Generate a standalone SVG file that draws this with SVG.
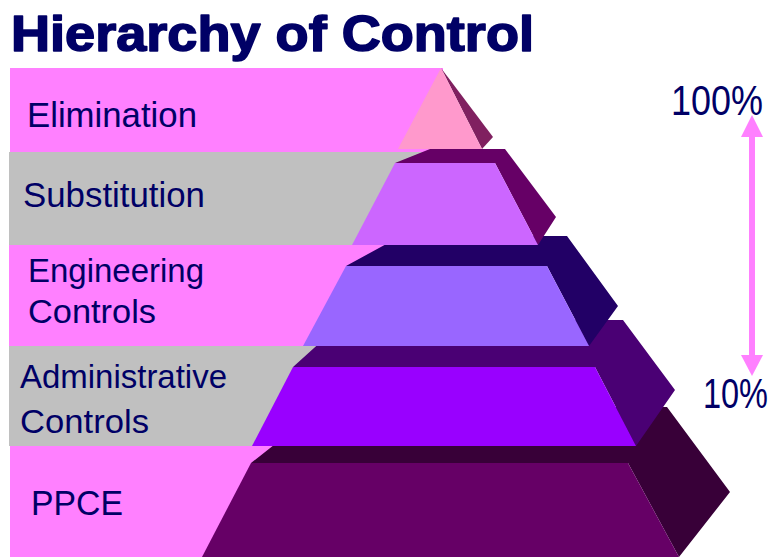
<svg xmlns="http://www.w3.org/2000/svg" width="778" height="557" viewBox="0 0 778 557">
<defs>
<style>
.pink{fill:#FF80FF}
.gray{fill:#C0C0C0}
.lbl{font-family:"Liberation Sans",Arial,sans-serif;font-size:35px;fill:#000066}
.lbl2{font-family:"Liberation Sans",Arial,sans-serif;font-size:34px;fill:#000066}
.pct{font-family:"Liberation Sans",Arial,sans-serif;font-size:42px;fill:#000066}
.title{font-family:"Liberation Sans",Arial,sans-serif;font-size:50px;font-weight:bold;fill:#000066;stroke:#000066;stroke-width:1.6;stroke-linejoin:round}
</style>
</defs>
<rect width="778" height="557" fill="#FFFFFF"/>
<text class="title" x="11" y="51" textLength="523" lengthAdjust="spacingAndGlyphs">Hierarchy of Control</text>

<g id="elimination">
<rect class="pink" x="10" y="68" width="433" height="85"/>
<text class="lbl" x="27" y="127" textLength="170" lengthAdjust="spacingAndGlyphs">Elimination</text>
</g>
<g id="substitution">
<rect class="gray" x="9" y="152" width="434" height="93"/>
<text class="lbl" x="23" y="207" textLength="182" lengthAdjust="spacingAndGlyphs">Substitution</text>
</g>
<g id="engineering">
<rect class="pink" x="9" y="245" width="434" height="101"/>
<text class="lbl2" x="28" y="282" textLength="176" lengthAdjust="spacingAndGlyphs">Engineering</text>
<text class="lbl2" x="28" y="323" textLength="128" lengthAdjust="spacingAndGlyphs">Controls</text>
</g>
<g id="administrative">
<rect class="gray" x="9" y="346" width="434" height="100"/>
<text class="lbl2" x="20" y="388" textLength="207" lengthAdjust="spacingAndGlyphs">Administrative</text>
<text class="lbl2" x="20" y="433" textLength="129" lengthAdjust="spacingAndGlyphs">Controls</text>
</g>
<g id="ppce">
<rect class="pink" x="10" y="446" width="433" height="111"/>
<text class="lbl" x="31" y="515" textLength="92" lengthAdjust="spacingAndGlyphs">PPCE</text>
</g>

<g id="pyramid">
<g id="tier-ppce">
<polygon points="251,463 322,407 667,407 730,492 679,557 628,463" fill="#380038"/>
<polygon points="251,463 628,463 679,557 202,557" fill="#660066"/>
</g>
<g id="tier-administrative">
<polygon points="293,367 345,320 623,320 675,390 636,446 595,367" fill="#4A0074"/>
<polygon points="293,367 595,367 636,446 252,446" fill="#9900FF"/>
</g>
<g id="tier-engineering">
<polygon points="346,266 401,236 567,236 618,306 589,346 547,266" fill="#220066"/>
<polygon points="346,266 547,266 589,346 303,346" fill="#9966FF"/>
</g>
<g id="tier-substitution">
<polygon points="395,163 430,149 505,149 556,217 538,245 495,163" fill="#660066"/>
<polygon points="395,163 495,163 538,245 352,245" fill="#CC66FF"/>
</g>
<g id="tier-elimination">
<polygon points="441,68 493,137 482,149" fill="#802060"/>
<polygon points="441,68 482,149 398,149" fill="#FF99CC"/>
</g>
</g>

<g id="connectors">
<line x1="752" y1="137" x2="752" y2="355" stroke="#FF80FF" stroke-width="6"/>
<polygon points="752,115 741,137 763,137" fill="#FF80FF"/>
<polygon points="752,376 741,355 763,355" fill="#FF80FF"/>
</g>
<text class="pct" x="671" y="115" textLength="92" lengthAdjust="spacingAndGlyphs">100%</text>
<text class="pct" x="703" y="408" textLength="65" lengthAdjust="spacingAndGlyphs">10%</text>
</svg>
